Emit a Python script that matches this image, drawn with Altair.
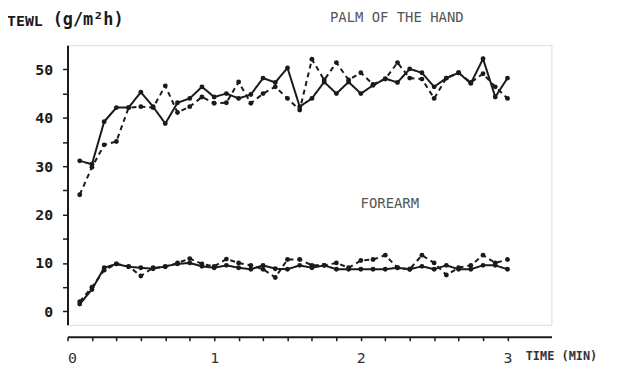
import altair as alt
import pandas as pd

# time of each reading, seconds
time_s = [5, 10, 15, 20, 25, 30, 35, 40, 45, 50, 55, 60,
          65, 70, 75, 80, 85, 90, 95, 100, 105, 110, 115, 120,
          125, 130, 135, 140, 145, 150, 155, 160, 165, 170, 175, 180]

palm_solid = [31.1, 30.4, 39.2, 42.1, 42.1, 45.3, 42.3, 38.8, 43.1, 44.0, 46.4, 44.3,
              45.0, 44.0, 44.8, 48.2, 47.3, 50.3, 42.3, 44.0, 47.4, 45.0, 47.4, 45.0,
              46.7, 48.1, 47.3, 50.1, 49.3, 46.4, 48.2, 49.3, 47.1, 52.2, 44.3, 48.2]
palm_dashed = [24.1, 29.8, 34.4, 35.1, 42.1, 42.3, 42.1, 46.6, 41.1, 42.3, 44.3, 43.0,
               43.1, 47.4, 43.0, 45.0, 46.4, 44.0, 41.6, 52.1, 47.8, 51.4, 47.8, 49.3,
               46.9, 48.0, 51.4, 48.2, 48.0, 44.0, 48.2, 49.3, 47.3, 49.1, 46.4, 44.0]
forearm_solid = [1.5, 4.5, 9.0, 9.8, 9.2, 9.0, 8.8, 9.3, 9.8, 10.0, 9.3, 9.0,
                 9.5, 9.0, 8.7, 9.5, 8.8, 8.7, 9.5, 9.0, 9.5, 8.7, 8.7, 8.7,
                 8.7, 8.7, 9.0, 8.7, 9.3, 8.7, 9.5, 8.7, 8.7, 9.5, 9.5, 8.7]
forearm_dashed = [2.0, 5.0, 8.5, 9.8, 9.3, 7.3, 9.0, 9.2, 10.0, 10.9, 9.8, 9.3,
                  10.8, 10.0, 9.5, 8.7, 7.0, 10.7, 10.7, 9.5, 9.5, 10.0, 9.0, 10.5,
                  10.7, 11.6, 9.0, 8.7, 11.6, 10.0, 7.5, 9.0, 9.5, 11.6, 10.0, 10.7]

x_ticks = [0, 1/6, 2/6, 3/6, 4/6, 5/6, 1, 7/6, 8/6, 9/6, 10/6, 11/6,
           2, 13/6, 14/6, 15/6, 16/6, 17/6, 3]
y_ticks = [0, 5, 10, 15, 20, 25, 30, 35, 40, 45, 50]

rows = []
for site, kind, vals in [("palm", "solid", palm_solid), ("palm", "dashed", palm_dashed),
                         ("forearm", "solid", forearm_solid), ("forearm", "dashed", forearm_dashed)]:
    for t, v in zip(time_s, vals):
        rows.append({"t": t / 60.0, "v": v, "site": site, "kind": kind, "grp": site + "_" + kind})
df = pd.DataFrame(rows)

INK = "#1a1a1a"
FONT = "DejaVu Sans Mono"

x = alt.X("t:Q", scale=alt.Scale(domain=[0, 3.3], nice=False, zero=False),
          axis=alt.Axis(values=x_ticks, title=None, grid=False, offset=12,
                        labelExpr="abs(datum.value - round(datum.value)) < 0.001 ? format(round(datum.value), 'd') : ''",
                        tickSize=4, tickWidth=1.5, tickColor=INK, domainColor=INK, domainWidth=2,
                        labelPadding=10, labelFont=FONT, labelFontSize=15, labelColor="#333"))
y = alt.Y("v:Q", scale=alt.Scale(domain=[-2.8, 55], nice=False, zero=False),
          axis=alt.Axis(values=y_ticks, title=None, grid=False,
                        labelExpr="datum.value % 10 == 0 ? datum.label : ''",
                        tickSize=5, tickWidth=1.5, tickColor=INK, domainColor=INK, domainWidth=2,
                        labelPadding=10, labelFont=FONT, labelFontSize=15, labelFontWeight="bold",
                        labelColor=INK))

base = alt.Chart(df)
lines = base.mark_line(color=INK, strokeWidth=2).encode(
    x=x, y=y, detail="grp:N",
    strokeDash=alt.StrokeDash("kind:N", scale=alt.Scale(domain=["solid", "dashed"], range=[[1, 0], [5, 4]]),
                              legend=None))
points = base.mark_circle(color=INK, size=24, opacity=1).encode(x=x, y=y)


def label(txt, px, py, size, weight="normal", color=INK, align="left"):
    return alt.Chart(pd.DataFrame({"a": [0]})).mark_text(
        text=txt, font=FONT, fontSize=size, fontWeight=weight, color=color,
        align=align, baseline="middle").encode(x=alt.value(px), y=alt.value(py))


texts = [
    label("TEWL", -61, -24, 15, "bold"),
    label("(g/m²h)", -15, -25, 17, "bold"),
    label("PALM OF THE HAND", 332, -27, 14, color="#555", align="center"),
    label("FOREARM", 325, 160, 14, color="#555", align="center"),
    label("TIME (MIN)", 462, 313, 12, "bold", color="#333"),
]

chart = alt.layer(lines, points, *texts).properties(
    width=488, height=282,
    padding={"left": 60, "top": 36, "right": 58, "bottom": 44},
    autosize=alt.AutoSizeParams(type="none"),
).configure_view(stroke=None).configure(background="white")

chart.save("out.html", embed_options={"renderer": "svg", "actions": False})
